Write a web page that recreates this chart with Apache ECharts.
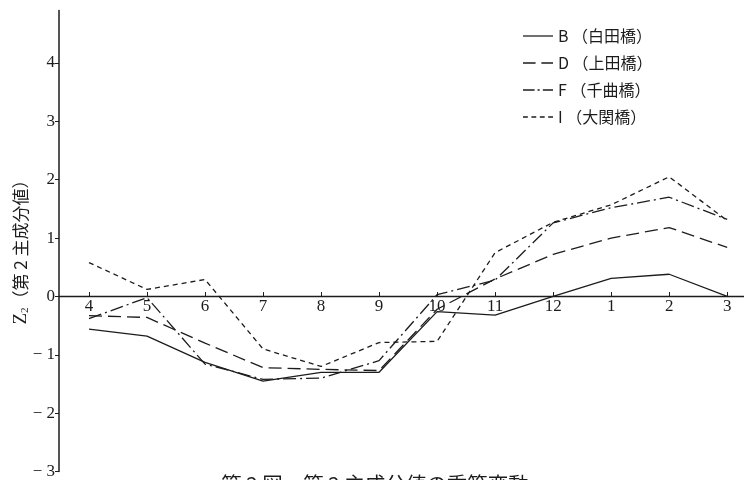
<!DOCTYPE html>
<html>
<head>
<meta charset="utf-8">
<script src="https://cdn.jsdelivr.net/npm/echarts@6/dist/echarts.min.js"></script>
<style>
html,body{margin:0;padding:0;background:#fff;}
#c{width:744px;height:480px;}
</style>
</head>
<body>
<div id="c"></div>
<script>
const months = ['4','5','6','7','8','9','10','11','12','1','2','3'];
const yTicks = [-3,-2,-1,0,1,2,3,4];
const seriesNames = ['B （白田橋）','D （上田橋）','F （千曲橋）','I （大関橋）'];
const valB = [-0.56,-0.68,-1.13,-1.45,-1.30,-1.30,-0.26,-0.32,0.00,0.31,0.38,0.00];
const valD = [-0.33,-0.36,-0.80,-1.22,-1.25,-1.27,-0.22,0.30,0.72,1.00,1.18,0.84];
const valF = [-0.38,-0.02,-1.16,-1.42,-1.40,-1.10,0.03,0.28,1.26,1.52,1.70,1.32];
const valI = [0.58,0.12,0.29,-0.90,-1.20,-0.79,-0.77,0.75,1.27,1.57,2.05,1.30];

const ink = '#1c1c1c';
const serif = '"Liberation Serif","DejaVu Serif",serif';
const cjk = '"Noto Sans CJK JP","Noto Sans CJK SC",sans-serif';
const idx = months.map((m,i)=>i);
const pairs = arr => arr.map((v,i)=>[i,v]);

const dashes = ['solid',[13,6],[13,4,2,4],[5,4]];
const legendIcons = [
  'path://M0,0h31v1.3h-31z',
  'path://M0,0h13v1.3h-13z M19,0h12v1.3h-12z',
  'path://M0,0h12v1.3h-12z M15,0h2.2v1.3h-2.2z M20.5,0h10.5v1.3h-10.5z',
  'path://M0,0h5v1.3h-5z M8.7,0h5v1.3h-5z M17.4,0h5v1.3h-5z M26,0h5v1.3h-5z'
];
const vals = [valB,valD,valF,valI];

const gridTop = 10.5, gridBottom = 7.5, yMin = -3, yMax = 4.9;
const plotH = 480 - gridTop - gridBottom;
const zeroOffset = -(plotH * (0 - yMin) / (yMax - yMin));

const chart = echarts.init(document.getElementById('c'), null, {renderer:'canvas'});
chart.setOption({
  animation:false,
  backgroundColor:'#fff',
  graphic:[
    {
      type:'text', x:375, y:474,
      style:{text:'第 2 図　第 2 主成分値の季節変動', font:'20.5px "Noto Sans CJK JP"',
        fill:ink, align:'center', verticalAlign:'top'}
    },
    {
      type:'text', x:21, y:248, rotation:Math.PI/2,
      style:{
        text:'{z|Z}{s|2}{t|（第 2 主成分値）}',
        align:'center', verticalAlign:'middle', fill:ink,
        rich:{
          z:{fontFamily:serif,fontSize:19,fill:ink},
          s:{fontFamily:serif,fontSize:11,fill:ink,padding:[8,0,0,0]},
          t:{fontFamily:cjk,fontSize:17,fill:ink}
        }
      }
    }
  ],
  legend:{
    orient:'vertical', left:523, top:28, padding:0,
    itemWidth:30, itemHeight:1.4, itemGap:11,
    data:seriesNames.map((n,k)=>({name:n,icon:legendIcons[k]})),
    itemStyle:{borderWidth:0},
    textStyle:{fontFamily:cjk,fontSize:16,lineHeight:16,color:ink}
  },
  grid:{left:59,right:0,top:gridTop,bottom:gridBottom,containLabel:false},
  xAxis:{
    type:'value', min:-0.517, max:11.29,
    offset:zeroOffset,
    axisLine:{onZero:false,lineStyle:{color:ink,width:1.3}},
    axisTick:{customValues:idx,inside:true,length:4,lineStyle:{color:ink}},
    axisLabel:{customValues:idx,formatter:v=>months[Math.round(v)],
      fontFamily:serif,fontSize:17,color:ink,margin:2},
    splitLine:{show:false}
  },
  yAxis:{
    type:'value', min:yMin, max:yMax,
    axisLine:{show:true,onZero:false,lineStyle:{color:ink,width:1.5}},
    axisTick:{show:true,customValues:yTicks,length:4,lineStyle:{color:ink}},
    axisLabel:{customValues:yTicks,formatter:v=>v<0?'− '+Math.abs(v):String(v),
      fontFamily:serif,fontSize:17,color:ink,margin:4},
    splitLine:{show:false}
  },
  series:seriesNames.map((n,k)=>({
    name:n, type:'line', data:pairs(vals[k]),
    symbol:'none', smooth:false,
    lineStyle:{color:ink,width:1.3,type:dashes[k]},
    itemStyle:{color:ink}
  }))
});
</script>
</body>
</html>
